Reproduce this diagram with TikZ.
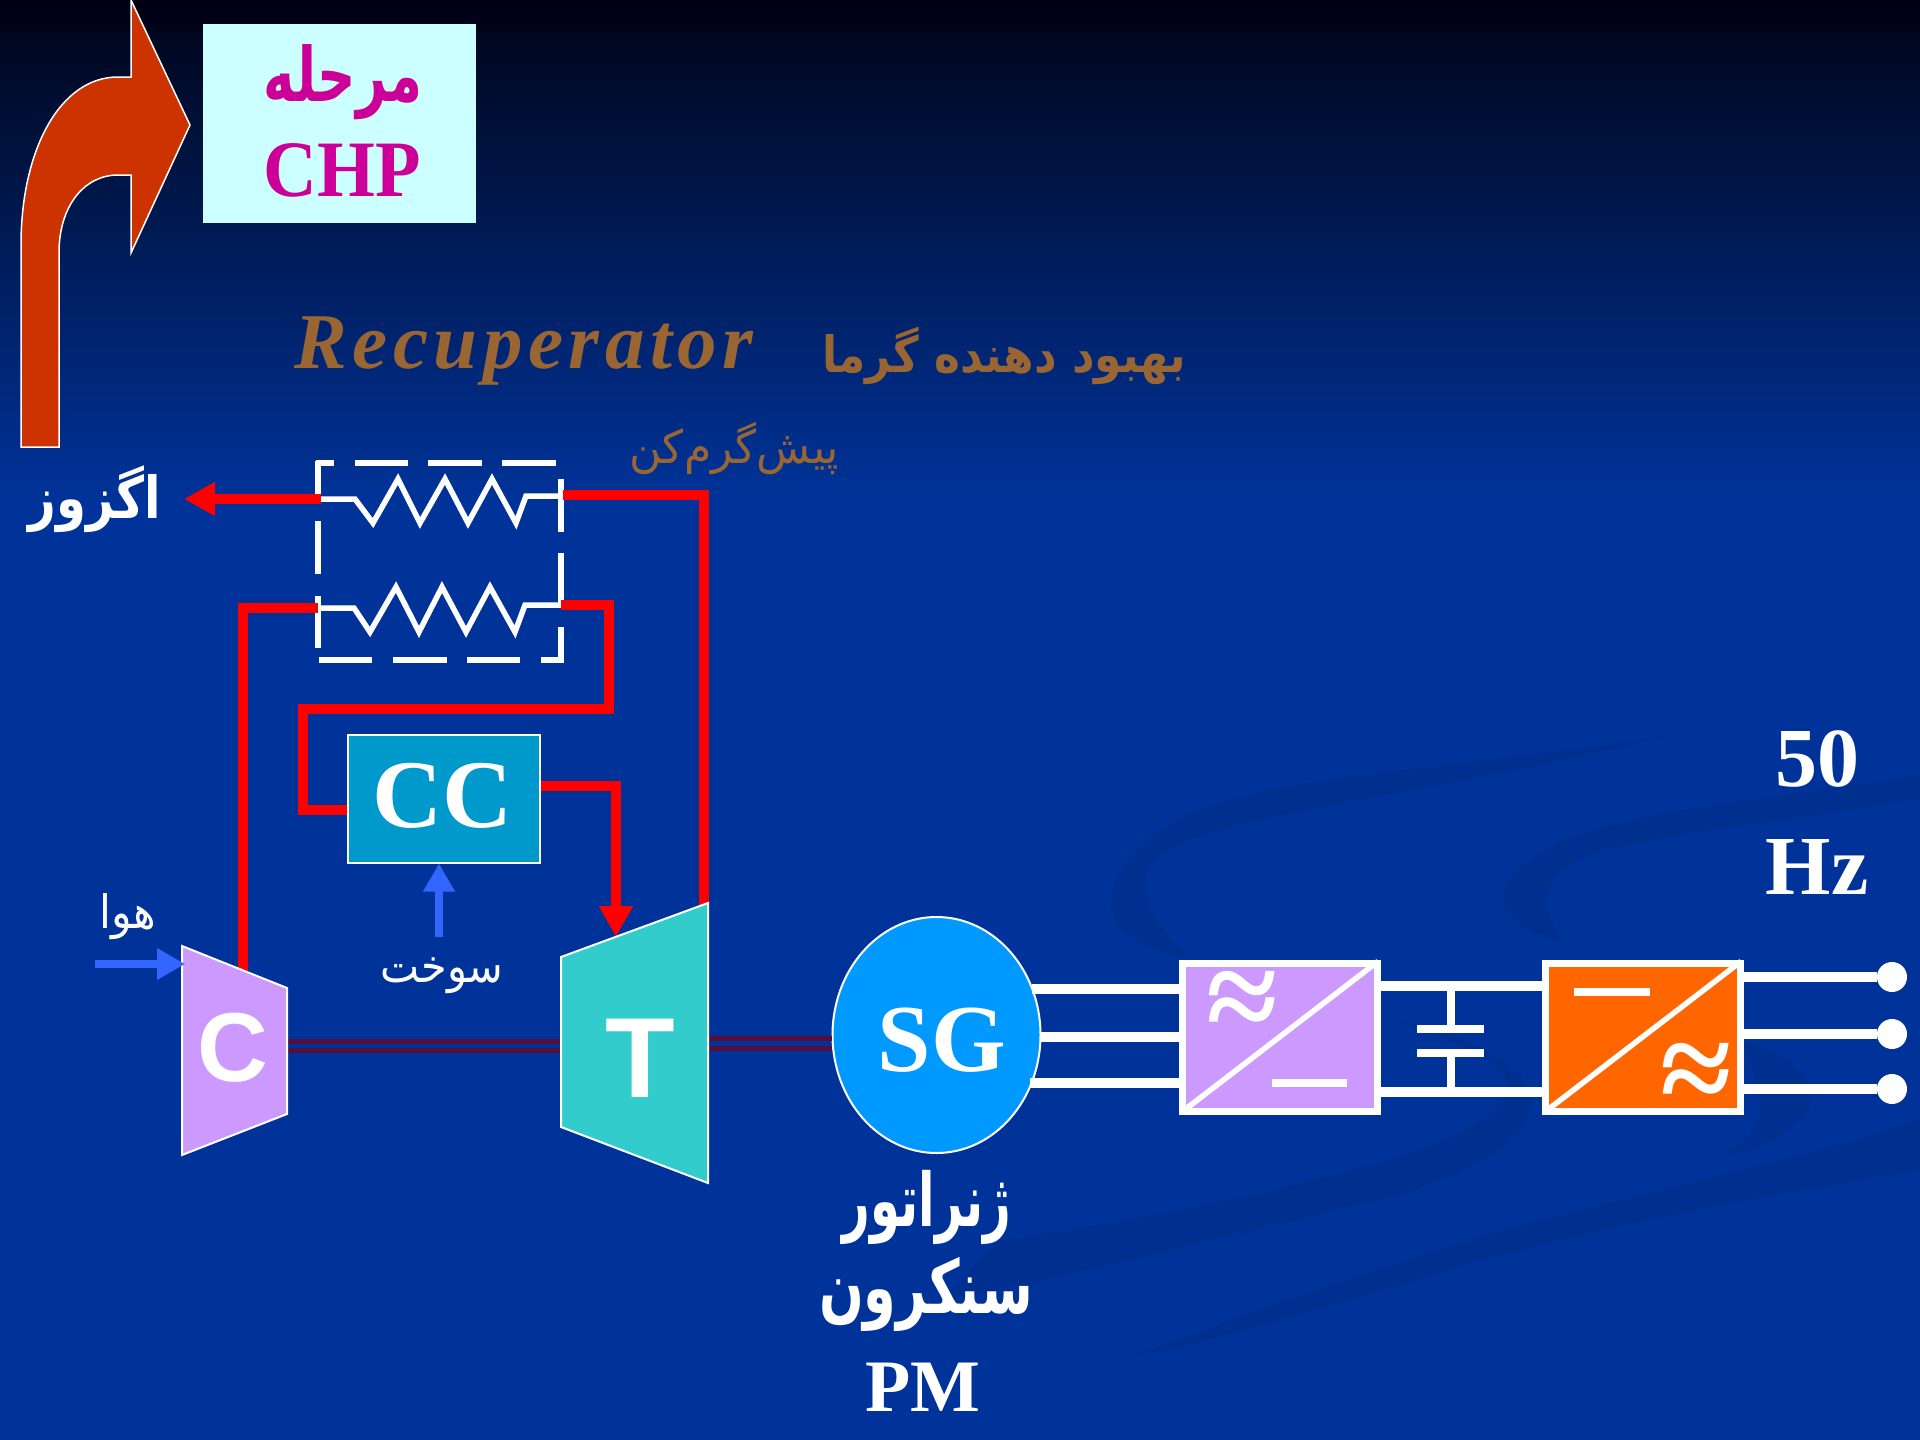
\documentclass[tikz,border=0pt]{standalone}
\usepackage{fontspec}
\usetikzlibrary{arrows.meta,shapes.geometric}
\TeXXeTstate=1
\setmainfont{Liberation Serif}
\newfontfamily\arb[Script=Arabic]{DejaVu Sans}
\newfontfamily\sansb{Liberation Sans}
\newfontfamily\recu[LetterSpace=7]{Liberation Serif}
\newcommand\fsz[1]{\fontsize{#1}{#1}\selectfont}
\newcommand\squeeze[2]{\scalebox{#1}[1]{#2}}
\definecolor{bgblue}{HTML}{003399}
\definecolor{bgtop}{HTML}{00071F}
\definecolor{bgdark}{HTML}{000014}
\definecolor{bgband}{HTML}{00308F}
\definecolor{swoosh}{HTML}{CC3300}
\definecolor{pale}{HTML}{CCFFFF}
\definecolor{magen}{HTML}{CC0099}
\definecolor{brownt}{HTML}{996633}
\definecolor{lilac}{HTML}{CC99FF}
\definecolor{teal2}{HTML}{33CCCC}
\definecolor{ccblue}{HTML}{0099CC}
\definecolor{sgblue}{HTML}{0099FF}
\definecolor{orng}{HTML}{FF6600}
\definecolor{fuel}{HTML}{3366FF}
\definecolor{shaft}{HTML}{560F3C}
\tikzset{
  txt/.style={inner sep=0pt,outer sep=0pt,text=white,anchor=center},
  redline/.style={draw=red,line width=10pt,line join=miter},
  whiteline/.style={draw=white,line width=5.5pt},
  busline/.style={draw=white,line width=9.5pt},
  blueline/.style={draw=fuel,line width=8pt,-{Triangle[length=28pt,width=30pt]}},
  shaftline/.style={draw=shaft,line width=5pt},
  band/.style={fill=bgband,draw=none},
  conv/.style={draw=white,line width=7pt,rectangle,inner sep=0pt,minimum width=195pt,minimum height=148pt},
  diag/.style={draw=white,line width=5.5pt,shorten <=3pt,shorten >=3pt}
}
\begin{document}
\begin{tikzpicture}[x=1pt,y=-1pt]
\useasboundingbox (0,0) rectangle (1920,1440);
% background
\fill[bgblue] (0,0) rectangle (1920,1440);
\fill[top color=bgtop,bottom color=bgblue,draw=none] (0,30) rectangle (1920,500);
\fill[top color=bgdark,bottom color=bgdark!70!bgtop,draw=none] (0,0) rectangle (1920,31);
% decorative bands
\fill[band] (1720,725) .. controls (1500,770) and (1250,770) .. (1168,825) .. controls (1115,860) and (1100,900) .. (1118,925) .. controls (1135,945) and (1165,955) .. (1190,958) .. controls (1160,930) and (1135,900) .. (1150,865) .. controls (1180,825) and (1350,805) .. (1528,768) .. controls (1600,750) and (1680,735) .. cycle;
\fill[band] (1920,775) .. controls (1800,795) and (1620,810) .. (1555,845) .. controls (1505,870) and (1490,895) .. (1512,918) .. controls (1525,932) and (1550,940) .. (1566,942) .. controls (1540,915) and (1535,885) .. (1578,860) .. controls (1620,838) and (1800,820) .. (1920,799) -- cycle;
\fill[band] (1381,1016) .. controls (1440,1035) and (1495,1055) .. (1510,1085) .. controls (1500,1120) and (1450,1145) .. (1350,1170) .. controls (1200,1210) and (1100,1225) .. (1000,1240) -- (940,1302) .. controls (1100,1270) and (1250,1230) .. (1400,1195) .. controls (1490,1165) and (1535,1135) .. (1530,1095) .. controls (1525,1060) and (1450,1030) .. cycle;
\fill[band] (1742,1042) .. controls (1790,1055) and (1815,1075) .. (1810,1105) .. controls (1800,1130) and (1760,1150) .. (1716,1160) .. controls (1750,1140) and (1765,1120) .. (1758,1095) .. controls (1755,1075) and (1750,1060) .. cycle;
\fill[band] (1920,1118) .. controls (1800,1165) and (1600,1195) .. (1400,1262) .. controls (1280,1300) and (1180,1340) .. (1117,1361) .. controls (1200,1345) and (1320,1310) .. (1450,1270) .. controls (1600,1225) and (1800,1190) .. (1920,1170) -- cycle;

% curved arrow, drawn directly
\fill[swoosh,draw=white,line width=1.5pt,line join=miter] (131,0) -- (190,125) -- (131,253) -- (131,175) -- (118,175) .. controls (85,175) and (59,205) .. (59,253) -- (59,447) -- (21,447) -- (21,245) .. controls (21,150) and (60,77) .. (118,77) -- (131,77) -- cycle;

% CHP box
\node[rectangle,fill=pale,draw=none,minimum width=273pt,minimum height=199pt,inner sep=0pt] (chpbox) at (339.5,123.5) {};
\node[txt,text=magen,font=\bfseries\fsz{75}] (chpfa) at (343,82) {\squeeze{.71}{\arb\beginR مرحله\endR}};
\node[txt,text=magen,font=\bfseries\fsz{80}] (chpen) at (342,170) {\squeeze{.93}{CHP}};

% titles
\node[txt,text=brownt,font=\fsz{79}\bfseries\itshape\recu] (rectitle) at (524,351) {Recuperator};
\node[txt,text=brownt,font=\bfseries\fsz{50}] (recfa) at (1004,356) {\squeeze{.88}{\arb\beginR بهبود دهنده گرما\endR}};
\node[txt,text=brownt,font=\fsz{46}] (prefa) at (734,449) {\squeeze{.96}{\arb\beginR پیش‌گرم‌کن\endR}};
\node[txt,font=\bfseries\fsz{58}] (exhaust) at (95,499) {\squeeze{.83}{\arb\beginR اگزوز\endR}};

% recuperator dashed frame
\draw[whiteline] (316,463) -- (334,463) (355,463) -- (408,463) (428,463) -- (482,463) (502,463) -- (556,463);
\draw[whiteline] (318,461) -- (318,500) (318,521) -- (318,574) (318,596) -- (318,648);
\draw[whiteline] (561,479) -- (561,532) (561,553) -- (561,606) (561,627) -- (561,663);
\draw[whiteline] (319,660) -- (372,660) (393,660) -- (447,660) (467,660) -- (520,660) (541,660) -- (563,660);
% coils
\coordinate (coilAw) at (321,499);
\coordinate (coilAe) at (561,496);
\coordinate (coilBw) at (318,608);
\coordinate (coilBe) at (561,605);
\draw[whiteline] (coilAw) -- (355,499) -- (373,523) -- (398,479) -- (420,523) -- (445,479) -- (468,523) -- (492,479) -- (516,523) -- (526,496) -- (coilAe);
\draw[whiteline] (coilBw) -- (354,608) -- (370,632) -- (396,587) -- (419,632) -- (442,587) -- (466,632) -- (490,587) -- (515,632) -- (525,605) -- (coilBe);

% compressor / turbine
\coordinate (cA) at (182,946);
\coordinate (cB) at (287,988);
\coordinate (cC) at (287,1114);
\coordinate (cD) at (182,1155);
\coordinate (tA) at (561,957);
\coordinate (tB) at (708,903);
\coordinate (tC) at (708,1183);
\coordinate (tD) at (561,1127);
\coordinate (cTop) at (243,971);
\coordinate (tTop) at (704,905);
\coordinate (tIn) at (616,937);
\coordinate (cIn) at (185,964);
\coordinate (airS) at (95,964);

% combustor
\node[rectangle,fill=ccblue,draw=white,line width=2pt,minimum width=192pt,minimum height=128pt,inner sep=0pt] (cc) at (444,798.5) {};
\node[txt,font=\bfseries\fsz{97}] (cclabel) at (443,796) {CC};

% generator
\node[ellipse,fill=sgblue,draw=white,line width=2pt,minimum width=208pt,minimum height=236pt,inner sep=0pt] (sg) at (936.5,1035) {};

% shafts
\draw[shaftline] (cB|-0,1041) -- (tA|-0,1041) (cB|-0,1050) -- (tA|-0,1050);
\draw[shaftline] (tB|-0,1038) -- (sg.west|-0,1038) (tB|-0,1048) -- (sg.west|-0,1048);

% red connectors
\coordinate (c1) at (704,495);
\coordinate (c2) at (243,608);
\coordinate (c3) at (609,605);
\coordinate (c4) at (609,709);
\coordinate (c5) at (303,709);
\coordinate (c6) at (303,810);
\coordinate (c7) at (616,786);
\draw[redline] (563,495) -- (c1) -- (tTop);
\draw[redline] (cTop) -- (c2) -- (coilBw);
\draw[redline] (coilBe) -- (c3) -- (c4) -- (c5) -- (c6) -- (cc.west|-c6);
\draw[redline,-{Triangle[length=31pt,width=32pt]}] (cc.east|-c7) -- (c7) -- (tIn);
\draw[redline,-{Triangle[length=31pt,width=32pt]}] (coilAw) -- (184,499);

\path[fill=lilac,draw=white,line width=2pt,line join=miter] (cA) -- (cB) -- (cC) -- (cD) -- cycle;
\path[fill=teal2,draw=white,line width=2pt,line join=miter] (tA) -- (tB) -- (tC) -- (tD) -- cycle;
\node[txt,font=\sansb\bfseries\fsz{98}] (clabel) at (233,1048) {C};
\node[txt,font=\sansb\bfseries\fsz{114}] (tlabel) at (640,1058) {T};
\node[txt,font=\bfseries\fsz{96}] (sglabel) at (942,1040) {SG};

% fuel and air arrows
\coordinate (fuelS) at (439,937);
\draw[blueline] (fuelS) -- (fuelS|-cc.south);
\draw[blueline] (airS) -- (cIn);
\node[txt,font=\fsz{46}] (airlabel) at (128,917) {\squeeze{.93}{\arb\beginR هوا\endR}};
\node[txt,font=\fsz{46}] (fuellabel) at (442,976) {\squeeze{.9}{\arb\beginR سوخت\endR}};

% generator labels
\node[txt,font=\bfseries\fsz{74}] (gen1) at (927,1207) {\squeeze{.65}{\arb\beginR ژنراتور\endR}};
\node[txt,font=\bfseries\fsz{74}] (gen2) at (926,1294) {\squeeze{.71}{\arb\beginR سنکرون\endR}};
\node[txt,font=\bfseries\fsz{74}] (gen3) at (923,1387) {PM};

% converters
\node[conv,fill=lilac] (rect) at (1279.5,1037) {};
\node[conv,fill=orng] (inv) at (1642.5,1037) {};
\draw[diag] (rect.south west) -- (rect.north east);
\draw[diag] (inv.south west) -- (inv.north east);
\node[txt,font=\bfseries\fsz{130}] (acA) at (1242,1006) {≈};
\node[txt,font=\bfseries\fsz{130}] (acB) at (1696,1078) {≈};
\coordinate (dcAw) at (1272,1083);
\coordinate (dcAe) at (1347,1083);
\coordinate (dcBw) at (1574,992);
\coordinate (dcBe) at (1650,992);
\draw[draw=white,line width=8.5pt] (dcAw) -- (dcAe);
\draw[draw=white,line width=8.5pt] (dcBw) -- (dcBe);

% buses
\coordinate (g1) at (1032,989);
\coordinate (g2) at (1040,1037);
\coordinate (g3) at (1030,1083);
\draw[busline] (g1) -- (rect.west|-g1);
\draw[busline] (g2) -- (rect.west|-g2);
\draw[busline] (g3) -- (rect.west|-g3);
\coordinate (d1) at (1451,986);
\coordinate (d2) at (1451,1092);
\draw[busline] (rect.east|-d1) -- (inv.west|-d1);
\draw[busline] (rect.east|-d2) -- (inv.west|-d2);
\coordinate (p1) at (1451,1029);
\coordinate (p2) at (1451,1053);
\draw[draw=white,line width=7.5pt] (d1) -- (p1);
\draw[draw=white,line width=7.5pt] (p2) -- (d2);
\draw[draw=white,line width=8.5pt] (1417,1029) -- (1484,1029);
\draw[draw=white,line width=8.5pt] (1417,1053) -- (1484,1053);

% output terminals
\node[circle,fill=white,draw=none,inner sep=0pt,minimum size=30pt] (o1) at (1892,977) {};
\node[circle,fill=white,draw=none,inner sep=0pt,minimum size=30pt] (o2) at (1892,1034) {};
\node[circle,fill=white,draw=none,inner sep=0pt,minimum size=30pt] (o3) at (1892,1089) {};
\draw[busline] (inv.east|-o1) -- (o1);
\draw[busline] (inv.east|-o2) -- (o2);
\draw[busline] (inv.east|-o3) -- (o3);

\node[txt,font=\bfseries\fsz{84}] (fifty) at (1817,759) {50};
\node[txt,font=\bfseries\fsz{84}] (hertz) at (1817,867) {Hz};
\end{tikzpicture}
\end{document}
